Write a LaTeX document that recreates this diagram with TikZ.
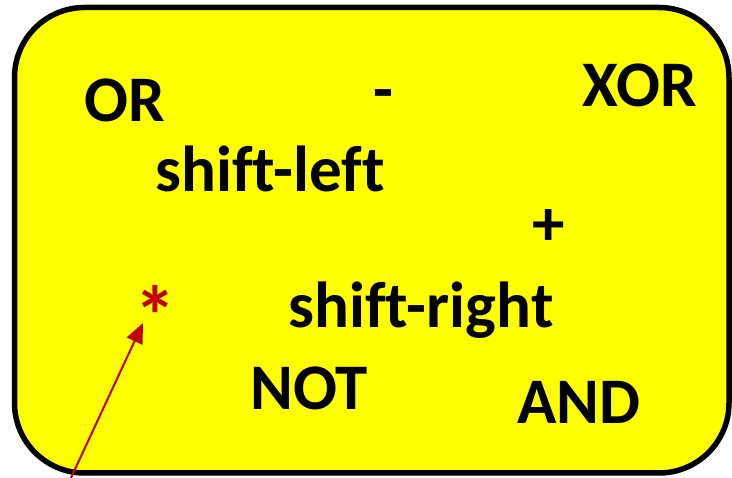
\documentclass[tikz,border=0pt]{standalone}
\usepackage{fontspec}
\setmainfont{Carlito}[Ligatures=NoCommon]
\usetikzlibrary{arrows.meta}
\definecolor{boxyellow}{HTML}{FFFF00}
\definecolor{darkred}{HTML}{C00000}
\begin{document}
\begin{tikzpicture}[x=1pt,y=-1pt,
  op/.style={inner sep=0pt,anchor=base,font=\fontsize{65}{72}\selectfont\bfseries},
  panel/.style={draw=black,line width=5.5pt,fill=boxyellow,rounded corners=70pt},
  pointer/.style={draw=darkred,line width=2pt,-{Triangle[length=20pt,width=17pt]}}]
\useasboundingbox (0,0) rectangle (732,478);
% operator panel
\draw[panel] (14.5,7.5) rectangle (729,473);
% operator labels
\node[op] (or)    at (124.5,122) {OR};
\node[op] (minus) at (383,112)   {-};
\node[op] (xor)   at (640,107)   {XOR};
\node[op] (shl)   at (270,192)   {shift-left};
\node[op] (plus)  at (549,246)   {+};
\node[op,text=darkred,font=\fontsize{84}{90}\selectfont\bfseries] (times) at (155.5,346) {*};
\node[op] (shr)   at (421,328)   {shift-right};
\node[op] (not)   at (309,410)   {NOT};
\node[op] (and)   at (579,424)   {AND};
% pointer to the multiplication operator
\coordinate (tail) at (70,480);
\coordinate (tip) at (143,323);
\draw[pointer] (tail) -- (tip);
\end{tikzpicture}
\end{document}
